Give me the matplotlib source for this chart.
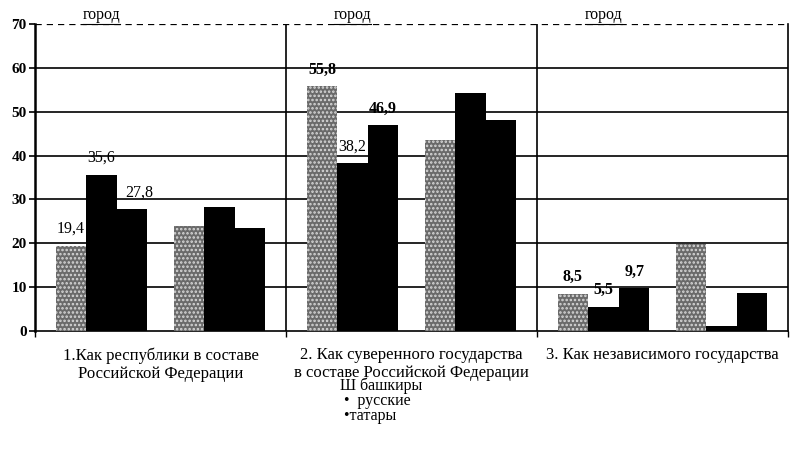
import matplotlib
matplotlib.use("Agg")
import matplotlib.pyplot as plt
from matplotlib.lines import Line2D
from matplotlib.transforms import blended_transform_factory

plt.rcParams['font.family'] = ['Liberation Serif', 'DejaVu Serif']
plt.rcParams['hatch.linewidth'] = 1.2

# categories (three answer options) and the two subgroups inside each
categories = ["1.Как республики в составе\nРоссийской Федерации",
              "2. Как суверенного государства\nв составе Российской Федерации",
              "3. Как независимого государства"]
subgroup_title = "город"

# values: [город, второй блок] for each category
bashkiry = [[19.4, 24.0], [55.8, 43.5], [8.5, 19.8]]
russkie = [[35.6, 28.2], [38.2, 54.2], [5.5, 1.2]]
tatary = [[27.8, 23.4], [46.9, 48.0], [9.7, 8.6]]

# labelled values (only the город subgroup carries numbers)
labels_b = ["19,4", "55,8", "8,5"]
labels_r = ["35,6", "38,2", "5,5"]
labels_t = ["27,8", "46,9", "9,7"]

yticks = [0, 10, 20, 30, 40, 50, 60, 70]
legend_lines = ["Ш башкиры", " •  русские", " •татары"]

fig = plt.figure(figsize=(7.96, 4.57), dpi=100)
ax = fig.add_axes([0.044, 0.2757, 0.946, 0.672])

w = 0.122
for g in range(3):
    for s in range(2):
        c = g + 0.265 + s * 0.47
        ax.bar(c - w, bashkiry[g][s], w, color='#6a6a6a', edgecolor='#d8d8d8',
               hatch='....', linewidth=0, zorder=3)
        ax.bar(c, russkie[g][s], w, color='black', linewidth=0, zorder=3)
        ax.bar(c + w, tatary[g][s], w, color='black', linewidth=0, zorder=3)
        if s == 0:
            bold_b = 'bold' if g > 0 else 'normal'
            bold_r = 'bold' if g == 2 else 'normal'
            bold_t = 'bold' if g > 0 else 'normal'
            ax.text(c - w, bashkiry[g][s] + 2, labels_b[g], ha='center', va='bottom',
                    fontsize=11.5, fontweight=bold_b, zorder=4)
            ax.text(c, russkie[g][s] + 2, labels_r[g], ha='center', va='bottom',
                    fontsize=11.5, fontweight=bold_r, zorder=4)
            ax.text(c + w + (0.03 if g == 0 else 0), tatary[g][s] + 2, labels_t[g],
                    ha='center', va='bottom', fontsize=11.5, fontweight=bold_t, zorder=4)

ax.set_xlim(0, 3)
ax.set_ylim(0, 70)
for y in yticks[1:-1]:
    ax.axhline(y, color='black', lw=1.2, zorder=1)
ax.axhline(70, color='black', lw=0.9, ls=(0, (5, 4)), zorder=1)
for x in [1, 2]:
    ax.axvline(x, color='black', lw=1.2, zorder=1)

ax.spines['top'].set_visible(False)
for sp in ['left', 'bottom', 'right']:
    ax.spines[sp].set_color('black')
ax.spines['left'].set_linewidth(1.8)
ax.spines['bottom'].set_linewidth(1.2)
ax.spines['right'].set_linewidth(1.2)

ax.set_yticks(yticks)
ax.set_yticklabels([str(v) for v in yticks], fontweight='bold', fontsize=11)
ax.set_xticks([0, 1, 2, 3])
ax.set_xticklabels([])
ax.tick_params(axis='y', length=4, width=1.2, direction='out', pad=2)
ax.tick_params(axis='x', length=4, width=1.0, direction='out')

tr = blended_transform_factory(ax.transData, ax.transAxes)
for g in range(3):
    ax.text(g + 0.5, -0.053, categories[g], transform=tr, ha='center', va='top',
            fontsize=12, linespacing=1.15)

titles = []
for g in range(3):
    t = ax.text(g + 0.265, 1.03, subgroup_title, transform=tr, ha='center',
                va='center', fontsize=11.5)
    titles.append(t)

fig.canvas.draw()
for t in titles:
    bb = t.get_window_extent()
    yline = (bb.y0 - 1) / fig.bbox.height
    fig.add_artist(Line2D([bb.x0 / fig.bbox.width, bb.x1 / fig.bbox.width],
                          [yline, yline], color='black', lw=0.8,
                          transform=fig.transFigure))

fig.text(340 / 796, 1 - 377 / 457, "\n".join(legend_lines), ha='left', va='top',
         fontsize=11.5, linespacing=0.92)

fig.savefig("out.png", dpi=100)
